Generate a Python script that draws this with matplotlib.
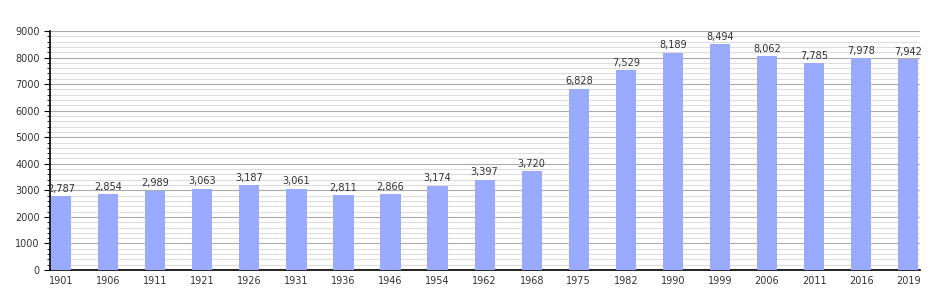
import numpy as np
import matplotlib.pyplot as plt
from matplotlib.ticker import MultipleLocator

years = ['1901', '1906', '1911', '1921', '1926', '1931', '1936', '1946', '1954', '1962',
         '1968', '1975', '1982', '1990', '1999', '2006', '2011', '2016', '2019']
population = [2787, 2854, 2989, 3063, 3187, 3061, 2811, 2866, 3174, 3397,
              3720, 6828, 7529, 8189, 8494, 8062, 7785, 7978, 7942]

fig = plt.figure(figsize=(9.5, 3), dpi=100)
ax = fig.add_axes([50/950, 30/300, 870/950, 239/300])

x = np.arange(len(years))
ax.bar(x, population, width=0.43, color='#99aaff', zorder=3)
for xi, v in zip(x, population):
    ax.text(xi, v + 90, f'{v:,}', ha='center', va='bottom', fontsize=7, color='#333333', zorder=4)

ax.set_xlim(-0.235, 18.25)
ax.set_ylim(0, 9000)
ax.yaxis.set_major_locator(MultipleLocator(1000))
ax.yaxis.set_minor_locator(MultipleLocator(200))
ax.grid(axis='y', which='major', color='#aaaaaa', linewidth=0.8, zorder=0)
ax.grid(axis='y', which='minor', color='#dddddd', linewidth=0.8, zorder=0)
ax.set_xticks(x)
ax.set_xticklabels(years)
ax.tick_params(axis='x', length=0, labelsize=7, colors='#333333', pad=4)
ax.tick_params(axis='y', which='major', length=4, labelsize=7, colors='#333333')
ax.tick_params(axis='y', which='minor', length=2)
ax.tick_params(axis='y', color='black')
for s in ['top', 'right']:
    ax.spines[s].set_visible(False)
ax.spines['left'].set_linewidth(1.2)
ax.spines['bottom'].set_linewidth(1.2)

fig.savefig('out.png', dpi=100)
